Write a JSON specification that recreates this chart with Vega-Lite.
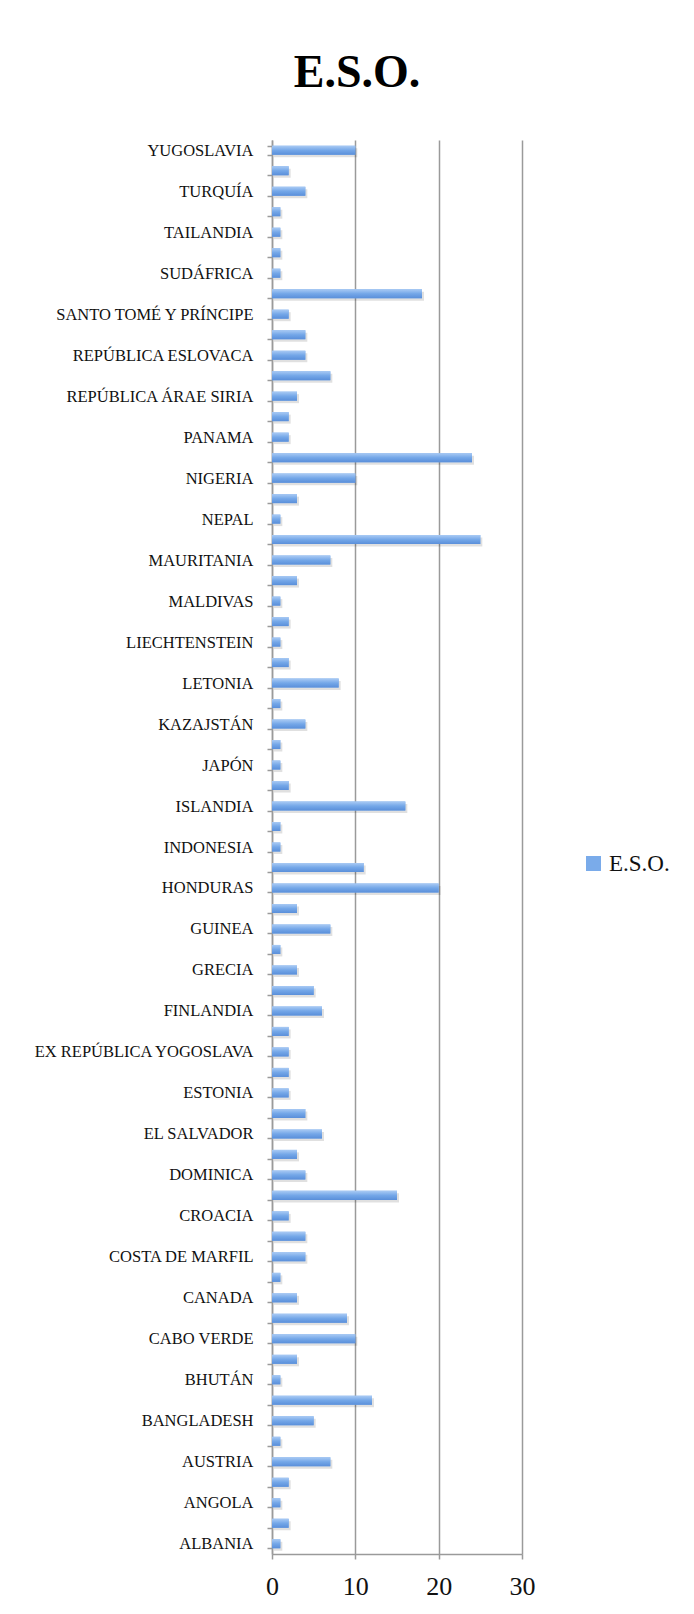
{
  "$schema": "https://vega.github.io/schema/vega-lite/v6.json",
  "width": 250,
  "height": 1414,
  "autosize": {"type": "none"},
  "padding": {"left": 272, "top": 140, "right": 172, "bottom": 60},
  "background": "white",
  "title": {
    "text": "E.S.O.",
    "font": "Liberation Serif",
    "fontSize": 46,
    "fontWeight": "bold",
    "color": "#000000",
    "anchor": "middle",
    "frame": "group",
    "dx": -40,
    "offset": 35
  },
  "config": {"view": {"stroke": null}},
  "data": {
    "values": [
      {"country": "YUGOSLAVIA", "students": 10, "series": "E.S.O."},
      {"country": "UCRANIA", "students": 2, "series": "E.S.O."},
      {"country": "TURQUÍA", "students": 4, "series": "E.S.O."},
      {"country": "TÚNEZ", "students": 1, "series": "E.S.O."},
      {"country": "TAILANDIA", "students": 1, "series": "E.S.O."},
      {"country": "SUECIA", "students": 1, "series": "E.S.O."},
      {"country": "SUDÁFRICA", "students": 1, "series": "E.S.O."},
      {"country": "SENEGAL", "students": 18, "series": "E.S.O."},
      {"country": "SANTO TOMÉ Y PRÍNCIPE", "students": 2, "series": "E.S.O."},
      {"country": "RUMANÍA", "students": 4, "series": "E.S.O."},
      {"country": "REPÚBLICA ESLOVACA", "students": 4, "series": "E.S.O."},
      {"country": "REPÚBLICA DOMINICANA", "students": 7, "series": "E.S.O."},
      {"country": "REPÚBLICA ÁRAE SIRIA", "students": 3, "series": "E.S.O."},
      {"country": "PARAGUAY", "students": 2, "series": "E.S.O."},
      {"country": "PANAMA", "students": 2, "series": "E.S.O."},
      {"country": "PAKISTÁN", "students": 24, "series": "E.S.O."},
      {"country": "NIGERIA", "students": 10, "series": "E.S.O."},
      {"country": "NICARAGUA", "students": 3, "series": "E.S.O."},
      {"country": "NEPAL", "students": 1, "series": "E.S.O."},
      {"country": "MÉXICO", "students": 25, "series": "E.S.O."},
      {"country": "MAURITANIA", "students": 7, "series": "E.S.O."},
      {"country": "MARRUECOS", "students": 3, "series": "E.S.O."},
      {"country": "MALDIVAS", "students": 1, "series": "E.S.O."},
      {"country": "LITUANIA", "students": 2, "series": "E.S.O."},
      {"country": "LIECHTENSTEIN", "students": 1, "series": "E.S.O."},
      {"country": "LÍBANO", "students": 2, "series": "E.S.O."},
      {"country": "LETONIA", "students": 8, "series": "E.S.O."},
      {"country": "KENIA", "students": 1, "series": "E.S.O."},
      {"country": "KAZAJSTÁN", "students": 4, "series": "E.S.O."},
      {"country": "JORDANIA", "students": 1, "series": "E.S.O."},
      {"country": "JAPÓN", "students": 1, "series": "E.S.O."},
      {"country": "ITALIA", "students": 2, "series": "E.S.O."},
      {"country": "ISLANDIA", "students": 16, "series": "E.S.O."},
      {"country": "IRLANDA", "students": 1, "series": "E.S.O."},
      {"country": "INDONESIA", "students": 1, "series": "E.S.O."},
      {"country": "HUNGRÍA", "students": 11, "series": "E.S.O."},
      {"country": "HONDURAS", "students": 20, "series": "E.S.O."},
      {"country": "GUINEA ECUATORIAL", "students": 3, "series": "E.S.O."},
      {"country": "GUINEA", "students": 7, "series": "E.S.O."},
      {"country": "GUATEMALA", "students": 1, "series": "E.S.O."},
      {"country": "GRECIA", "students": 3, "series": "E.S.O."},
      {"country": "FRANCIA", "students": 5, "series": "E.S.O."},
      {"country": "FINLANDIA", "students": 6, "series": "E.S.O."},
      {"country": "FILIPINAS", "students": 2, "series": "E.S.O."},
      {"country": "EX REPÚBLICA YOGOSLAVA", "students": 2, "series": "E.S.O."},
      {"country": "ETIOPÍA", "students": 2, "series": "E.S.O."},
      {"country": "ESTONIA", "students": 2, "series": "E.S.O."},
      {"country": "ESLOVENIA", "students": 4, "series": "E.S.O."},
      {"country": "EL SALVADOR", "students": 6, "series": "E.S.O."},
      {"country": "ECUADOR", "students": 3, "series": "E.S.O."},
      {"country": "DOMINICA", "students": 4, "series": "E.S.O."},
      {"country": "CUBA", "students": 15, "series": "E.S.O."},
      {"country": "CROACIA", "students": 2, "series": "E.S.O."},
      {"country": "COSTA RICA", "students": 4, "series": "E.S.O."},
      {"country": "COSTA DE MARFIL", "students": 4, "series": "E.S.O."},
      {"country": "CHINA", "students": 1, "series": "E.S.O."},
      {"country": "CANADA", "students": 3, "series": "E.S.O."},
      {"country": "CAMERÚN", "students": 9, "series": "E.S.O."},
      {"country": "CABO VERDE", "students": 10, "series": "E.S.O."},
      {"country": "BOLIVIA", "students": 3, "series": "E.S.O."},
      {"country": "BHUTÁN", "students": 1, "series": "E.S.O."},
      {"country": "BÉLGICA", "students": 12, "series": "E.S.O."},
      {"country": "BANGLADESH", "students": 5, "series": "E.S.O."},
      {"country": "AZERBAIYÁN", "students": 1, "series": "E.S.O."},
      {"country": "AUSTRIA", "students": 7, "series": "E.S.O."},
      {"country": "ARGENTINA", "students": 2, "series": "E.S.O."},
      {"country": "ANGOLA", "students": 1, "series": "E.S.O."},
      {"country": "ALEMANIA", "students": 2, "series": "E.S.O."},
      {"country": "ALBANIA", "students": 1, "series": "E.S.O."}
    ]
  },
  "encoding": {
    "y": {
      "field": "country",
      "type": "nominal",
      "sort": null,
      "scale": {"paddingInner": 0.56, "paddingOuter": 0.28},
      "axis": {
        "title": null,
        "grid": false,
        "tickBand": "extent",
        "domainColor": "#9a9a9a",
        "domainWidth": 1.5,
        "tickColor": "#9a9a9a",
        "tickWidth": 1.5,
        "tickSize": 5,
        "labelFont": "Liberation Serif",
        "labelFontSize": 16.5,
        "labelColor": "#111111",
        "labelPadding": 14,
        "labelLimit": 0,
        "labelOverlap": false,
        "labelExpr": "round(datum.index * 68) % 2 == 0 ? datum.label : ''"
      }
    },
    "x": {
      "field": "students",
      "type": "quantitative",
      "scale": {"domain": [0, 30], "nice": false},
      "axis": {
        "title": null,
        "values": [0, 10, 20, 30],
        "grid": true,
        "gridColor": "#9a9a9a",
        "gridWidth": 1.5,
        "domainColor": "#9a9a9a",
        "domainWidth": 1.5,
        "tickColor": "#9a9a9a",
        "tickWidth": 1.5,
        "tickSize": 5,
        "labelFont": "Liberation Serif",
        "labelFontSize": 26,
        "labelColor": "#111111",
        "labelPadding": 14,
        "labelFlush": false
      }
    }
  },
  "layer": [
    {
      "mark": {"type": "bar", "color": "#000000", "opacity": 0.12, "xOffset": 2, "yOffset": 2.5}
    },
    {
      "mark": {"type": "bar"},
      "encoding": {
        "color": {
          "field": "series",
          "type": "nominal",
          "scale": {"range": ["#7aabea"]},
          "legend": {
            "orient": "none",
            "legendX": 310,
            "legendY": 712,
            "title": null,
            "padding": 0,
            "symbolType": "square",
            "symbolSize": 225,
            "symbolStrokeWidth": 0,
            "labelFont": "Liberation Serif",
            "labelFontSize": 23,
            "labelColor": "#111111",
            "labelOffset": 4
          }
        }
      }
    },
    {
      "mark": {
        "type": "bar",
        "color": {
          "gradient": "linear",
          "x1": 0, "y1": 0, "x2": 0, "y2": 1,
          "stops": [
            {"offset": 0, "color": "#a9caf4"},
            {"offset": 0.5, "color": "#74a7e8"},
            {"offset": 1, "color": "#5a8fda"}
          ]
        }
      }
    }
  ]
}
